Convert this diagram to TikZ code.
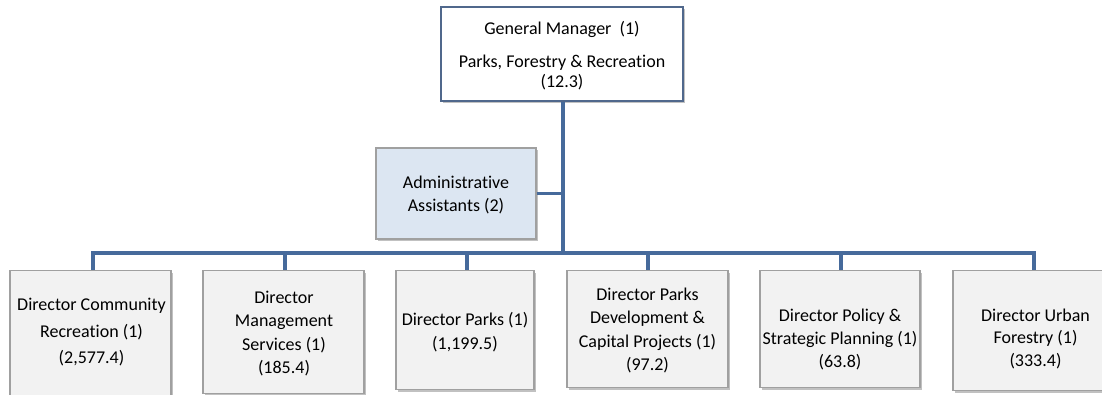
\documentclass[tikz,border=0pt]{standalone}
\usepackage{fontspec}
\setmainfont[Ligatures=NoCommon]{Carlito}
\usetikzlibrary{shadows}
\definecolor{linec}{RGB}{70,106,155}
\definecolor{gmborder}{RGB}{80,104,140}
\definecolor{adminfill}{RGB}{220,230,242}
\definecolor{dirfill}{RGB}{242,242,242}
\definecolor{dirborder}{RGB}{160,160,160}
\begin{document}
\begin{tikzpicture}[x=1pt,y=-1pt,
  boxbase/.style={rectangle, inner sep=0pt, line width=1.2pt,
    drop shadow={shadow xshift=2pt, shadow yshift=-2pt, fill=black!35, opacity=0.7}},
  gmbox/.style={boxbase, draw=gmborder, fill=white},
  adminbox/.style={boxbase, draw=dirborder, fill=adminfill},
  dirbox/.style={boxbase, draw=dirborder, fill=dirfill},
  txt/.style={align=center, inner sep=0pt, font=\fontsize{18}{23.5}\selectfont},
  conn/.style={draw=linec, line width=4pt},
  connthin/.style={draw=linec, line width=3.5pt}
]
\useasboundingbox (0,0) rectangle (1102,394);
\clip (0,0) rectangle (1102,394);

% boxes
\node[gmbox, minimum width=242pt, minimum height=94pt] (gm) at (562,54) {};
\node[adminbox, minimum width=160pt, minimum height=91pt] (adm) at (456,193.5) {};
\node[dirbox, minimum width=161pt, minimum height=135pt, anchor=north] (d1) at (90.5,270) {};
\node[dirbox, minimum width=161pt, minimum height=123pt, anchor=north] (d2) at (283.5,270) {};
\node[dirbox, minimum width=138pt, minimum height=119pt, anchor=north] (d3) at (465,270) {};
\node[dirbox, minimum width=161pt, minimum height=117pt, anchor=north] (d4) at (647.5,270) {};
\node[dirbox, minimum width=160pt, minimum height=117pt, anchor=north] (d5) at (840,270) {};
\node[dirbox, minimum width=162pt, minimum height=120pt, anchor=north] (d6) at (1034,270) {};

% texts
\node[txt] (tgm1) at (562,29) {General Manager~~(1)};
\node[txt, font=\fontsize{18}{20}\selectfont] (tgm2) at (562,72) {Parks, Forestry \& Recreation\\(12.3)};
\node[txt, font=\fontsize{18}{22.7}\selectfont] (tadm) at (456,195.3) {Administrative\\Assistants (2)};
\node[txt, font=\fontsize{18}{26.5}\selectfont] (t1) at (91.5,332.4) {Director Community\\Recreation (1)\\(2,577.4)};
\node[txt] (t2) at (284,333.5) {Director\\Management\\Services (1)\\(185.4)};
\node[txt] (t3) at (465,332.3) {Director Parks (1)\\(1,199.5)};
\node[txt] (t4) at (647.5,330.5) {Director Parks\\Development \&\\Capital Projects (1)\\(97.2)};
\node[txt, font=\fontsize{18}{22.7}\selectfont] (t5) at (840,339.3) {Director Policy \&\\Strategic Planning (1)\\(63.8)};
\node[txt, font=\fontsize{18}{22.7}\selectfont] (t6) at (1035.5,338.8) {Director Urban\\Forestry (1)\\(333.4)};

% bus coordinates
\coordinate (trunk) at (562.5,252.5);
\coordinate (b1) at (93,252.5);
\coordinate (b2) at (285,252.5);
\coordinate (b3) at (467,252.5);
\coordinate (b4) at (648,252.5);
\coordinate (b5) at (841,252.5);
\coordinate (b6) at (1034,252.5);

% connectors
\draw[conn] (gm.south -| trunk) -- (trunk);
\draw[connthin] (adm.east) -- (adm.east -| trunk);
\draw[conn, line cap=rect] (b1) -- (b6);
\draw[conn] (b1) -- (b1 |- d1.north);
\draw[conn] (b2) -- (b2 |- d2.north);
\draw[conn] (b3) -- (b3 |- d3.north);
\draw[conn] (b4) -- (b4 |- d4.north);
\draw[conn] (b5) -- (b5 |- d5.north);
\draw[conn] (b6) -- (b6 |- d6.north);
\end{tikzpicture}
\end{document}
